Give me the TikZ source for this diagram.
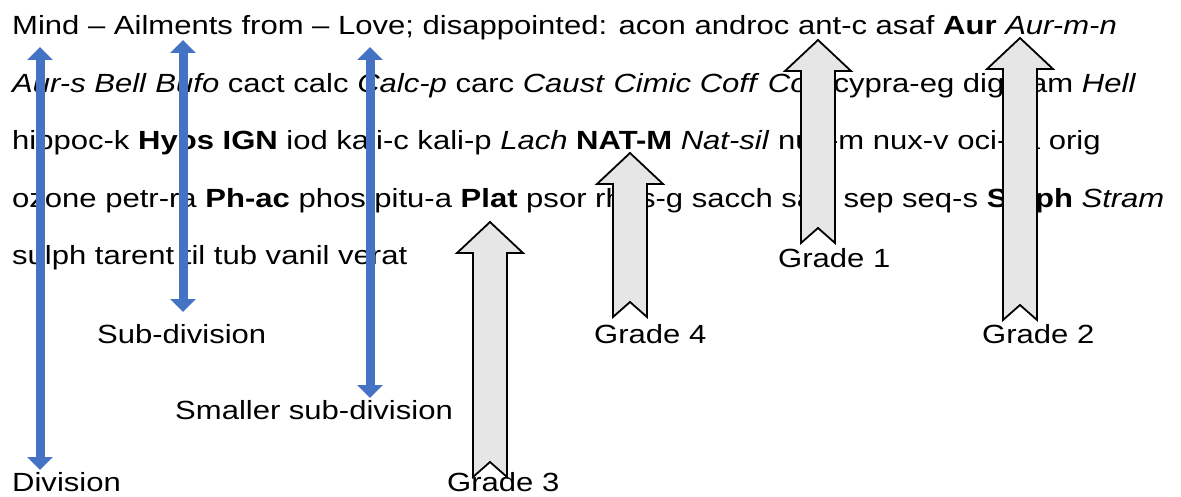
\documentclass[tikz,border=0pt]{standalone}
\usepackage{fontspec}
\setmainfont{Liberation Sans}[FakeStretch=1.18]
\usetikzlibrary{arrows.meta}
\definecolor{divblue}{HTML}{4472C4}
\definecolor{gradefill}{HTML}{E6E6E6}
\tikzset{
  rubric/.style={anchor=base west, inner sep=0pt, font=\fontsize{26.3}{30}\selectfont},
  lbl/.style={anchor=base west, inner sep=0pt, font=\fontsize{26.3}{30}\selectfont},
  divarrow/.style={draw=divblue, line width=9pt,
    {Triangle[width=25pt,length=13pt]}-{Triangle[width=25pt,length=13pt]}},
  gradearrow/.style={draw=black, fill=gradefill, line width=1.8pt, line join=miter},
}
% block arrow: tip x, tip y, tail y (y grows downwards)
\newcommand{\gradearrowat}[3]{%
  \draw[gradearrow] (#1,#2) -- ++(33,31) -- ++(-16,0) -- (#1+17,#3)
    -- (#1,#3-15) -- (#1-17,#3) -- (#1-17,#2+31) -- ++(-16,0) -- cycle;}
\begin{document}
\begin{tikzpicture}[x=1pt,y=-1pt]
\useasboundingbox (0,0) rectangle (1181,497);

% the rubric and its remedies
\node[rubric] (r1) at (12,35) {Mind – Ailments from – Love; disappointed: acon androc ant-c asaf \textbf{Aur} \textit{Aur-m-n}};
\node[rubric] (r2) at (12,92.5) {\textit{Aur-s} \textit{Bell} \textit{Bufo} cact calc \textit{Calc-p} carc \textit{Caust} \textit{Cimic} \textit{Coff} \textit{Con} cypra-eg dig ham \textit{Hell}};
\node[rubric] (r3) at (12,150) {hippoc-k \textbf{Hyos} \textbf{IGN} iod kali-c kali-p \textit{Lach} \textbf{NAT-M} \textit{Nat-sil} nux-m nux-v oci-sa orig};
\node[rubric] (r4) at (12,207.5) {ozone petr-ra \textbf{Ph-ac} phos pitu-a \textbf{Plat} psor rhus-g sacch sarr sep seq-s \textbf{Staph} \textit{Stram}};
\node[rubric] (r5) at (12,265) {sulph tarent til tub vanil verat};

% division levels
\coordinate (divtop) at (40,47);
\coordinate (divbot) at (40,470);
\coordinate (subtop) at (183,40);
\coordinate (subbot) at (183,312);
\coordinate (smltop) at (370,47);
\coordinate (smlbot) at (370,398);
\draw[divarrow] (divtop) -- (divbot);
\draw[divarrow] (subtop) -- (subbot);
\draw[divarrow] (smltop) -- (smlbot);

% grades
\gradearrowat{818}{40}{243}
\gradearrowat{1020}{38}{320}
\gradearrowat{630}{153}{317}
\gradearrowat{490}{222}{477}

% labels
\node[lbl] (subdiv) at (97,343) {Sub-division};
\node[lbl] (smldiv) at (175,419) {Smaller sub-division};
\node[lbl] (division) at (12,491) {Division};
\node[lbl] (grade3) at (447,491) {Grade 3};
\node[lbl] (grade4) at (594,343) {Grade 4};
\node[lbl] (grade1) at (778,267) {Grade 1};
\node[lbl] (grade2) at (982,343) {Grade 2};
\end{tikzpicture}
\end{document}
